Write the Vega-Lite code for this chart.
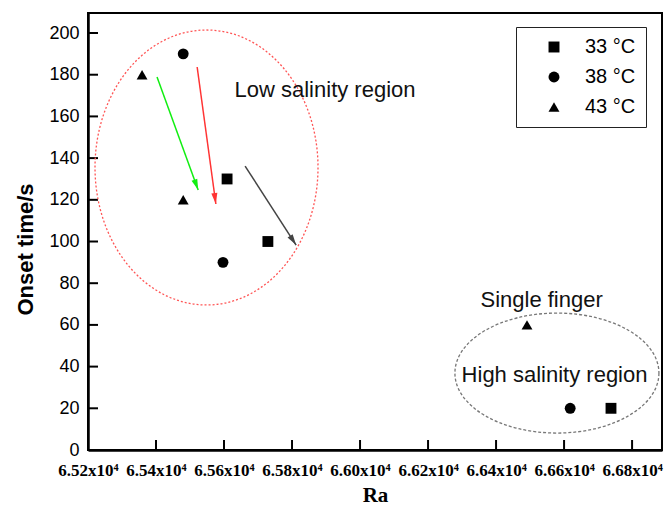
{
  "$schema": "https://vega.github.io/schema/vega-lite/v6.json",
  "width": 574,
  "height": 437,
  "autosize": {"type": "none"},
  "padding": {"left": 88, "top": 13, "right": 3, "bottom": 56},
  "background": "white",
  "config": {
    "view": {"stroke": "black", "strokeWidth": 2},
    "axis": {"grid": false, "zindex": 1, "ticks": false, "domainColor": "black", "domainWidth": 2.5, "labelFlush": false, "labelOverlap": false, "labelColor": "black", "titleColor": "black"}
  },
  "datasets": {
    "points": [
      {"ra": 65609, "t": 130, "temp": "33 °C"},
      {"ra": 65729, "t": 100, "temp": "33 °C"},
      {"ra": 66738, "t": 20, "temp": "33 °C"},
      {"ra": 65480, "t": 190, "temp": "38 °C"},
      {"ra": 65597, "t": 90, "temp": "38 °C"},
      {"ra": 66618, "t": 20, "temp": "38 °C"},
      {"ra": 65359, "t": 180, "temp": "43 °C"},
      {"ra": 65480, "t": 120, "temp": "43 °C"},
      {"ra": 66491, "t": 60, "temp": "43 °C"}
    ],
    "arrows": [
      {"arrow": "green", "x1": 65403, "y1": 178.9, "x2": 65524, "y2": 124.7},
      {"arrow": "red", "x1": 65521, "y1": 183.7, "x2": 65576, "y2": 118},
      {"arrow": "black", "x1": 65662, "y1": 136.2, "x2": 65812, "y2": 98.3}
    ],
    "regions": [
      {"region": "low", "ra": 65548.5, "t": 135.5},
      {"region": "high", "ra": 66579, "t": 36.9}
    ],
    "labels": [
      {"text": "Low salinity region", "ra": 65897, "t": 169.3},
      {"text": "Single finger", "ra": 66534, "t": 68.6},
      {"text": "High salinity region", "ra": 66572, "t": 32.8}
    ],
    "xticks": [{"ra": 65200}, {"ra": 65400}, {"ra": 65600}, {"ra": 65800}, {"ra": 66000}, {"ra": 66200}, {"ra": 66400}, {"ra": 66600}, {"ra": 66800}],
    "yticks": [{"t": 20}, {"t": 40}, {"t": 60}, {"t": 80}, {"t": 100}, {"t": 120}, {"t": 140}, {"t": 160}, {"t": 180}, {"t": 200}]
  },
  "layer": [
    {
      "data": {"name": "points"},
      "mark": {"type": "point", "filled": true, "color": "black", "size": 118, "opacity": 1},
      "encoding": {
        "x": {
          "field": "ra", "type": "quantitative",
          "scale": {"domain": [65200, 66888], "nice": false, "zero": false},
          "axis": {
            "values": [65200, 65400, 65600, 65800, 66000, 66200, 66400, 66600, 66800],
            "labelExpr": "format(datum.value / 10000, '.2f') + 'x10⁴'",
            "labelFont": "Liberation Serif", "labelFontWeight": "bold", "labelFontSize": 17, "labelPadding": 12,
            "title": "Ra", "titleFont": "Liberation Serif", "titleFontWeight": "bold", "titleFontSize": 21,
            "titleBaseline": "alphabetic", "titleY": 51
          }
        },
        "y": {
          "field": "t", "type": "quantitative",
          "scale": {"domain": [0, 209.6], "nice": false, "zero": false},
          "axis": {
            "values": [0, 20, 40, 60, 80, 100, 120, 140, 160, 180, 200],
            "labelFont": "Liberation Sans", "labelFontSize": 18, "labelPadding": 9,
            "title": "Onset time/s", "titleFont": "Liberation Sans", "titleFontWeight": "bold", "titleFontSize": 22,
            "titleAngle": -90, "titleBaseline": "middle", "titleAlign": "center", "titleX": -63, "titleY": 236
          }
        },
        "shape": {
          "field": "temp", "type": "nominal",
          "scale": {"domain": ["33 °C", "38 °C", "43 °C"], "range": ["square", "circle", "triangle-up"]},
          "legend": {
            "title": null, "orient": "none", "legendX": 428, "legendY": 14,
            "strokeColor": "#222222", "padding": 10, "symbolOffset": 18, "labelOffset": 21,
            "labelFont": "Liberation Sans", "labelFontSize": 20, "labelColor": "black", "rowPadding": 10,
            "symbolSize": 120, "symbolFillColor": "black", "symbolStrokeColor": "black", "symbolOpacity": 1
          }
        }
      }
    },
    {
      "data": {"name": "xticks"},
      "mark": {"type": "tick", "orient": "vertical", "size": 20, "thickness": 2, "color": "black", "opacity": 1, "clip": true},
      "encoding": {
        "x": {"field": "ra", "type": "quantitative"},
        "y": {"datum": 0, "type": "quantitative"}
      }
    },
    {
      "data": {"name": "yticks"},
      "mark": {"type": "tick", "orient": "horizontal", "size": 20, "thickness": 2, "color": "black", "opacity": 1, "clip": true},
      "encoding": {
        "x": {"datum": 65200, "type": "quantitative"},
        "y": {"field": "t", "type": "quantitative"}
      }
    },
    {
      "data": {"name": "regions"},
      "transform": [{"filter": "datum.region === 'low'"}],
      "mark": {"type": "point", "shape": "M1,0C1,0.681 0.552,1.233 0,1.233C-0.552,1.233 -1,0.681 -1,0C-1,-0.681 -0.552,-1.233 0,-1.233C0.552,-1.233 1,-0.681 1,0Z", "size": 49729, "filled": false, "stroke": "#ff5555", "strokeWidth": 1.3, "strokeDash": [2, 2], "opacity": 1},
      "encoding": {
        "x": {"field": "ra", "type": "quantitative"},
        "y": {"field": "t", "type": "quantitative"}
      }
    },
    {
      "data": {"name": "regions"},
      "transform": [{"filter": "datum.region === 'high'"}],
      "mark": {"type": "point", "shape": "M1,0C1,0.325 0.552,0.588 0,0.588C-0.552,0.588 -1,0.325 -1,0C-1,-0.325 -0.552,-0.588 0,-0.588C0.552,-0.588 1,-0.325 1,0Z", "size": 41616, "filled": false, "stroke": "#777777", "strokeWidth": 1.3, "strokeDash": [3, 2], "opacity": 1},
      "encoding": {
        "x": {"field": "ra", "type": "quantitative"},
        "y": {"field": "t", "type": "quantitative"}
      }
    },
    {
      "data": {"name": "arrows"},
      "mark": {"type": "rule", "strokeWidth": 1.5},
      "encoding": {
        "x": {"field": "x1", "type": "quantitative"},
        "y": {"field": "y1", "type": "quantitative"},
        "x2": {"field": "x2"},
        "y2": {"field": "y2"},
        "color": {"field": "arrow", "type": "nominal", "scale": {"domain": ["green", "red", "black"], "range": ["#11ee11", "#ff3333", "#444444"]}, "legend": null}
      }
    },
    {
      "data": {"name": "arrows"},
      "transform": [{"filter": "datum.arrow === 'green'"}],
      "mark": {"type": "point", "shape": "M0,0L-0.55,2L0.55,2Z", "size": 121, "filled": true, "angle": 160, "opacity": 1},
      "encoding": {
        "x": {"field": "x2", "type": "quantitative"},
        "y": {"field": "y2", "type": "quantitative"},
        "color": {"field": "arrow", "type": "nominal", "legend": null}
      }
    },
    {
      "data": {"name": "arrows"},
      "transform": [{"filter": "datum.arrow === 'red'"}],
      "mark": {"type": "point", "shape": "M0,0L-0.55,2L0.55,2Z", "size": 121, "filled": true, "angle": 172, "opacity": 1},
      "encoding": {
        "x": {"field": "x2", "type": "quantitative"},
        "y": {"field": "y2", "type": "quantitative"},
        "color": {"field": "arrow", "type": "nominal", "legend": null}
      }
    },
    {
      "data": {"name": "arrows"},
      "transform": [{"filter": "datum.arrow === 'black'"}],
      "mark": {"type": "point", "shape": "M0,0L-0.55,2L0.55,2Z", "size": 121, "filled": true, "angle": 147, "opacity": 1},
      "encoding": {
        "x": {"field": "x2", "type": "quantitative"},
        "y": {"field": "y2", "type": "quantitative"},
        "color": {"field": "arrow", "type": "nominal", "legend": null}
      }
    },
    {
      "data": {"name": "labels"},
      "mark": {"type": "text", "font": "Liberation Sans", "fontSize": 22, "baseline": "alphabetic", "align": "center", "color": "#111111"},
      "encoding": {
        "x": {"field": "ra", "type": "quantitative"},
        "y": {"field": "t", "type": "quantitative"},
        "text": {"field": "text"}
      }
    }
  ]
}
